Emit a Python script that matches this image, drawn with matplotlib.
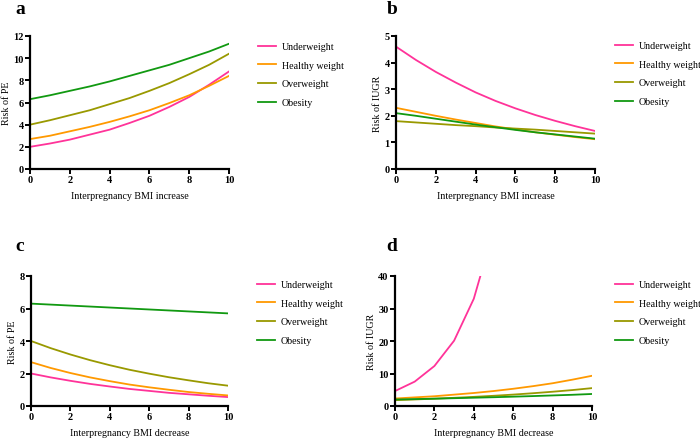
import matplotlib
matplotlib.use("Agg")
import matplotlib.pyplot as plt

plt.rcParams['font.family'] = ['Liberation Serif', 'DejaVu Serif']

x = [0, 1, 2, 3, 4, 5, 6, 7, 8, 9, 10]
series_names = ["Underweight", "Healthy weight", "Overweight", "Obesity"]
colors = ["#FF3399", "#FF9900", "#999900", "#119911"]

# Panel a: Risk of PE vs BMI increase
a_under = [2.0, 2.3, 2.65, 3.1, 3.55, 4.15, 4.8, 5.6, 6.5, 7.6, 8.8]
a_healthy = [2.7, 3.0, 3.4, 3.8, 4.25, 4.75, 5.3, 5.95, 6.65, 7.5, 8.4]
a_over = [4.0, 4.4, 4.85, 5.3, 5.85, 6.4, 7.05, 7.75, 8.55, 9.4, 10.4]
a_obese = [6.3, 6.65, 7.05, 7.45, 7.9, 8.4, 8.9, 9.4, 10.0, 10.6, 11.3]

# Panel b: Risk of IUGR vs BMI increase
b_under = [4.6, 4.1, 3.65, 3.25, 2.88, 2.56, 2.28, 2.03, 1.81, 1.61, 1.43]
b_healthy = [2.3, 2.15, 2.0, 1.86, 1.73, 1.6, 1.49, 1.38, 1.29, 1.2, 1.12]
b_over = [1.8, 1.75, 1.7, 1.65, 1.61, 1.56, 1.52, 1.48, 1.43, 1.38, 1.33]
b_obese = [2.1, 2.0, 1.89, 1.78, 1.67, 1.57, 1.47, 1.38, 1.30, 1.22, 1.14]

# Panel c: Risk of PE vs BMI decrease
c_under = [2.0, 1.76, 1.55, 1.36, 1.2, 1.05, 0.93, 0.81, 0.72, 0.63, 0.55]
c_healthy = [2.7, 2.34, 2.03, 1.76, 1.53, 1.32, 1.15, 1.0, 0.86, 0.75, 0.65]
c_over = [4.0, 3.56, 3.17, 2.82, 2.51, 2.23, 1.99, 1.77, 1.58, 1.4, 1.25]
c_obese = [6.3, 6.24, 6.18, 6.12, 6.06, 6.0, 5.94, 5.88, 5.82, 5.76, 5.7]

# Panel d: Risk of IUGR vs BMI decrease
d_under_x = [0, 1, 2, 3, 4, 5]
d_under = [4.6, 7.5, 12.3, 20.1, 33.0, 54.0]
d_healthy = [2.3, 2.65, 3.0, 3.5, 4.0, 4.6, 5.3, 6.1, 7.0, 8.1, 9.3]
d_over = [1.8, 2.01, 2.25, 2.52, 2.81, 3.14, 3.51, 3.93, 4.39, 4.9, 5.5]
d_obese = [2.0, 2.12, 2.25, 2.4, 2.55, 2.7, 2.87, 3.05, 3.25, 3.45, 3.7]

W, H = 700, 439
fig = plt.figure(figsize=(7, 4.39), dpi=100)

def rect(l, t, r, b):
    return [l / W, (H - b) / H, (r - l) / W, (b - t) / H]

panels = [
    dict(letter="a", rect=rect(30, 37, 229, 170), xs=[x, x, x, x],
         ys=[a_under, a_healthy, a_over, a_obese], ylim=12, yticks=[0, 2, 4, 6, 8, 10, 12],
         ylabel="Risk of PE", xlabel="Interpregnancy BMI increase",
         letter_xy=(20, 9), leg_xy=(258, 43)),
    dict(letter="b", rect=rect(396, 37, 595, 170), xs=[x, x, x, x],
         ys=[b_under, b_healthy, b_over, b_obese], ylim=5, yticks=[0, 1, 2, 3, 4, 5],
         ylabel="Risk of IUGR", xlabel="Interpregnancy BMI increase",
         letter_xy=(392, 9), leg_xy=(615, 42)),
    dict(letter="c", rect=rect(31, 277, 228, 407), xs=[x, x, x, x],
         ys=[c_under, c_healthy, c_over, c_obese], ylim=8, yticks=[0, 2, 4, 6, 8],
         ylabel="Risk of PE", xlabel="Interpregnancy BMI decrease",
         letter_xy=(20, 247), leg_xy=(257, 281)),
    dict(letter="d", rect=rect(395, 277, 592, 407), xs=[d_under_x, x, x, x],
         ys=[d_under, d_healthy, d_over, d_obese], ylim=40, yticks=[0, 10, 20, 30, 40],
         ylabel="Risk of IUGR", xlabel="Interpregnancy BMI decrease",
         letter_xy=(392, 247), leg_xy=(615, 281)),
]

for p in panels:
    ax = fig.add_axes(p["rect"])
    for xs, ys, c, n in zip(p["xs"], p["ys"], colors, series_names):
        ax.plot(xs, ys, color=c, lw=1.3, label=n)
    ax.set_xlim(0, 10)
    ax.set_ylim(0, p["ylim"])
    ax.set_xticks([0, 2, 4, 6, 8, 10])
    ax.set_yticks(p["yticks"])
    for s in ["top", "right"]:
        ax.spines[s].set_visible(False)
    for s in ["left", "bottom"]:
        ax.spines[s].set_linewidth(1.6)
    ax.tick_params(direction="out", length=3.5, width=1.4, labelsize=7.5, pad=1)
    for lab in ax.get_xticklabels() + ax.get_yticklabels():
        lab.set_fontweight("bold")
    ax.set_xlabel(p["xlabel"], fontsize=7.2, labelpad=5)
    ax.set_ylabel(p["ylabel"], fontsize=7.2, labelpad=1.5)
    lx, ly = p["leg_xy"]
    ax.legend(loc="upper left", bbox_to_anchor=(lx / W, (H - ly) / H),
              bbox_transform=fig.transFigure, frameon=False, fontsize=7.2,
              handlelength=1.75, handletextpad=0.65, labelspacing=0.97,
              borderaxespad=0, borderpad=0)
    tx, ty = p["letter_xy"]
    fig.text(tx / W, (H - ty) / H, p["letter"], fontsize=14, fontweight="bold",
             ha="center", va="center")

fig.savefig("out.png", dpi=100)
